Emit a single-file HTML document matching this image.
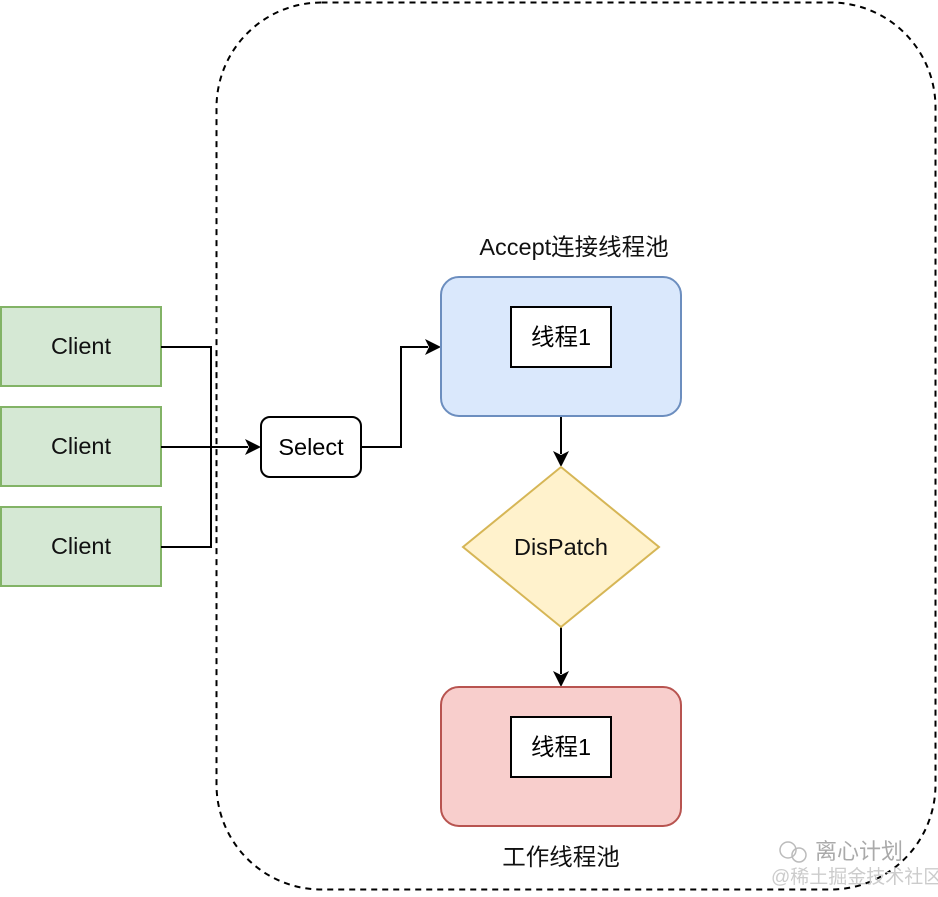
<!DOCTYPE html>
<html><head><meta charset="utf-8"><style>
html,body{margin:0;padding:0;background:#fff;}
svg text{font-family:"Liberation Sans","Noto Sans CJK SC",sans-serif;}
</style></head><body>
<svg width="938" height="892" viewBox="0 0 938 892" xmlns="http://www.w3.org/2000/svg">
<rect x="216.5" y="2.5" width="719" height="887" rx="105" fill="none" stroke="#000" stroke-width="2" stroke-dasharray="6,5"/>
<g fill="#d5e8d4" stroke="#82b366" stroke-width="2">
<rect x="1" y="307" width="160" height="79"/>
<rect x="1" y="407" width="160" height="79"/>
<rect x="1" y="507" width="160" height="79"/>
</g>
<g font-size="23.5" text-anchor="middle" fill="#111">
<text x="81" y="354">Client</text>
<text x="81" y="454">Client</text>
<text x="81" y="554">Client</text>
</g>
<g fill="none" stroke="#000" stroke-width="2">
<path d="M161,347 H211 V547 H161"/>
<path d="M161,447 H248"/>
<path d="M361,447 H401 V347 H428"/>
<path d="M561,417 V454"/>
<path d="M561,627 V674"/>
</g>
<g fill="#000">
<path d="M261,447 L245,439 L249,447 L245,455 Z"/>
<path d="M441,347 L425,339 L429,347 L425,355 Z"/>
<path d="M561,467 L553,451 L561,455 L569,451 Z"/>
<path d="M561,687 L553,671 L561,675 L569,671 Z"/>
</g>
<rect x="261" y="417" width="100" height="60" rx="9" fill="#fff" stroke="#000" stroke-width="2"/>
<text x="311" y="455" font-size="23.5" text-anchor="middle">Select</text>
<text x="574" y="255" font-size="23.5" text-anchor="middle" fill="#111">Accept连接线程池</text>
<rect x="441" y="277" width="240" height="139" rx="18" fill="#dae8fc" stroke="#6c8ebf" stroke-width="2"/>
<rect x="511" y="307" width="100" height="60" fill="#fff" stroke="#000" stroke-width="2"/>
<text x="561" y="345" font-size="23.5" text-anchor="middle">线程1</text>
<polygon points="561,467 659,547 561,627 463,547" fill="#fff2cc" stroke="#d6b656" stroke-width="2"/>
<text x="561" y="555" font-size="23.5" text-anchor="middle" fill="#111">DisPatch</text>
<rect x="441" y="687" width="240" height="139" rx="18" fill="#f8cecc" stroke="#b85450" stroke-width="2"/>
<rect x="511" y="717" width="100" height="60" fill="#fff" stroke="#000" stroke-width="2"/>
<text x="561" y="755" font-size="23.5" text-anchor="middle">线程1</text>
<text x="561" y="865" font-size="23.5" text-anchor="middle" fill="#111">工作线程池</text>
<text x="815" y="859" font-size="22" fill="#aaa">离心计划</text>
<text x="771" y="883" font-size="19" fill="#ccc">@稀土掘金技术社区</text>
<circle cx="788" cy="850" r="8" fill="none" stroke="#bbb" stroke-width="1.5"/>
<circle cx="799" cy="855" r="7" fill="none" stroke="#bbb" stroke-width="1.5"/>
</svg>
</body></html>
